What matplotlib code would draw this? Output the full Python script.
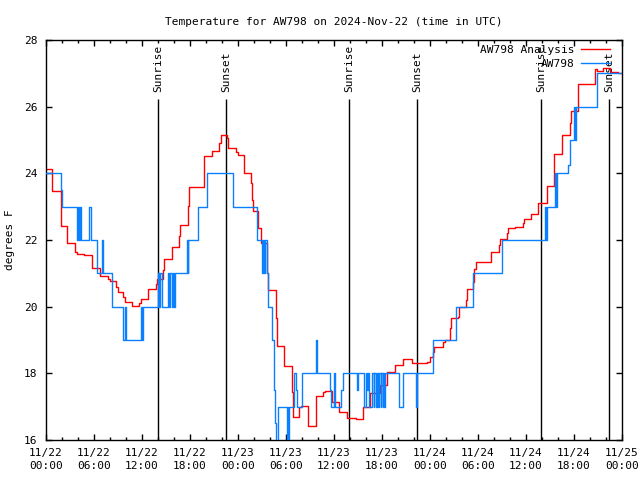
import matplotlib
matplotlib.use('Agg')
import matplotlib.pyplot as plt
from matplotlib.ticker import MultipleLocator, FixedLocator

# Hours since 2024-11-22 00:00 UTC
red_t = [0.0, 0.71, 1.84, 2.66, 3.66, 3.91, 4.75, 5.71, 6.75, 7.79, 8.0, 8.75, 8.96,
         9.66, 9.88, 10.79, 11.63, 11.84, 12.71, 12.79, 13.75, 13.84, 14.66, 14.79,
         15.71, 16.66, 16.79, 17.71, 17.84, 19.79, 20.71, 21.63, 21.84, 22.66, 22.79,
         23.71, 23.96, 24.75, 24.79, 25.63, 25.71, 25.84, 26.54, 26.84, 27.66, 27.79,
         28.71, 28.84, 29.75, 30.71, 30.84, 31.66, 31.84, 32.71, 33.71, 34.66, 34.88,
         35.71, 35.79, 36.66, 37.66, 38.71, 39.66, 40.5, 41.75, 42.59, 43.63, 44.66,
         45.71, 47.66, 48.0, 48.38, 48.54, 49.66, 49.88, 50.5, 50.63, 51.46, 51.66,
         52.46, 52.59, 53.41, 53.54, 53.71, 55.59, 56.63, 56.75, 57.59, 57.71, 58.63,
         59.59, 59.71, 60.63, 61.54, 62.59, 63.54, 64.54, 65.5, 65.63, 66.54, 68.63,
         68.84, 69.66, 70.5, 71.54, 72.0]
red_v = [24.12, 23.47, 22.42, 21.9, 21.65, 21.57, 21.54, 21.15, 20.93, 20.83, 20.77,
         20.6, 20.44, 20.3, 20.15, 20.03, 20.1, 20.22, 20.35, 20.52, 20.68, 20.82, 21.1,
         21.42, 21.8, 22.12, 22.44, 23.02, 23.58, 24.52, 24.68, 24.92, 25.16, 25.05,
         24.75, 24.65, 24.55, 24.28, 24.02, 23.72, 23.2, 22.88, 22.35, 21.9, 21.0, 20.5,
         19.67, 18.82, 18.22, 17.45, 16.68, 16.98, 17.02, 16.42, 17.33, 17.45, 17.48,
         17.25, 17.13, 16.85, 16.65, 16.62, 17.0, 17.42, 17.65, 18.05, 18.25, 18.42,
         18.3, 18.35, 18.5, 18.65, 18.8, 18.95, 19.0, 19.35, 19.65, 19.7, 19.98, 20.2,
         20.52, 20.75, 21.12, 21.33, 21.63, 21.85, 22.02, 22.2, 22.35, 22.4, 22.5,
         22.63, 22.78, 23.1, 23.62, 24.57, 25.15, 25.5, 25.86, 26.68, 27.12, 27.08,
         27.17, 27.03, 27.0, 27.0]

blue_t = [0.0, 1.88, 2.0, 3.91, 4.04, 4.16, 4.29, 4.41, 5.41, 5.59, 6.41, 6.96, 7.16,
          8.21, 9.66, 9.84, 10.0, 11.88, 11.96, 12.09, 14.04, 14.16, 14.29, 14.46,
          15.21, 15.38, 15.5, 15.71, 15.91, 16.04, 16.13, 17.59, 17.69, 17.79, 19.04,
          20.13, 23.41, 26.34, 27.04, 27.13, 27.25, 27.38, 27.59, 27.79, 28.21, 28.54,
          28.63, 28.75, 29.04, 30.09, 30.19, 30.29, 30.38, 31.04, 31.25, 31.38, 32.04,
          33.71, 33.91, 35.5, 35.63, 36.04, 36.16, 36.88, 37.16, 38.88, 39.0, 39.75,
          39.96, 40.13, 40.21, 40.38, 40.71, 40.94, 41.04, 41.25, 41.38, 41.54, 41.63,
          41.84, 41.91, 42.09, 42.16, 42.29, 42.38, 44.13, 44.66, 46.25, 46.41, 48.41,
          51.21, 53.41, 57.04, 62.38, 62.5, 62.63, 63.63, 63.75, 63.84, 65.29, 65.5,
          66.04, 66.13, 66.21, 68.84, 72.0]
blue_v = [24, 23.5, 23, 22, 23, 22, 23, 22, 23, 22, 21, 22, 21,
          20, 19, 20, 19, 20, 19, 20, 21, 20, 21, 20,
          21, 20, 21, 20, 21, 20, 21, 22, 21, 22, 23,
          24, 23, 22, 21, 22, 21, 22, 21, 20, 19, 17.5,
          16.5, 15, 17, 15, 17, 15, 17, 18, 17.5, 17, 18,
          19, 18, 17.5, 17, 18, 17, 17.5, 18, 17.5, 18, 17,
          18, 17.5, 18, 17, 18, 17, 18, 17, 18, 17, 18,
          17, 18, 17, 18, 17, 18, 17, 18, 17, 18, 19,
          20, 21, 22, 23, 22, 23, 24, 23, 24, 24.25, 25,
          26, 25, 26, 27, 27]

sun_labels = ['Sunrise', 'Sunset', 'Sunrise', 'Sunset', 'Sunrise', 'Sunset']
sun_t = [14.0, 22.5, 37.875, 46.375, 61.875, 70.375]

xtick_hours = [0, 6, 12, 18, 24, 30, 36, 42, 48, 54, 60, 66, 72]
xtick_labels = ['11/22\n00:00', '11/22\n06:00', '11/22\n12:00', '11/22\n18:00',
                '11/23\n00:00', '11/23\n06:00', '11/23\n12:00', '11/23\n18:00',
                '11/24\n00:00', '11/24\n06:00', '11/24\n12:00', '11/24\n18:00',
                '11/25\n00:00']
ytick_vals = [16, 18, 20, 22, 24, 26, 28]

plt.rcParams['font.family'] = ['DejaVu Sans Mono']
FS = 8

fig = plt.figure(figsize=(6.4, 4.8), dpi=100)
ax = fig.add_axes([46 / 640, 40 / 480, 576 / 640, 400 / 480])

for t, lab in zip(sun_t, sun_labels):
    ax.vlines(t, 16, 26.22, color='black', lw=1.0, zorder=1)
    ax.text(t, 26.43, lab, rotation=90, ha='center', va='bottom', fontsize=FS,
            zorder=1)

ax.plot(red_t, red_v, drawstyle='steps-post', color='#ff0000', lw=1.0,
        label='AW798 Analysis', zorder=2)
ax.plot(blue_t, blue_v, drawstyle='steps-post', color='#0a80ff', lw=1.0,
        label='AW798', zorder=3)

ax.set_xlim(0, 72)
ax.set_ylim(16, 28)
ax.xaxis.set_major_locator(FixedLocator(xtick_hours))
ax.set_xticklabels(xtick_labels)
for lbl in ax.get_xticklabels():
    lbl.set_linespacing(1.35)
ax.xaxis.set_minor_locator(MultipleLocator(2))
ax.set_yticks(ytick_vals)
ax.tick_params(axis='both', which='major', direction='in', length=4, width=1,
               top=True, right=True, labelsize=FS)
ax.tick_params(axis='x', which='major', pad=6)
ax.tick_params(axis='y', which='major', pad=6)
ax.tick_params(axis='x', which='minor', direction='in', length=2, width=1,
               top=True)
for sp in ax.spines.values():
    sp.set_linewidth(1.0)

ax.set_title('Temperature for AW798 on 2024-Nov-22 (time in UTC)', fontsize=FS,
             pad=11)
fig.text(10 / 640, 0.5, 'degrees F', rotation=90, ha='center', va='center',
         fontsize=FS)

ax.legend(loc='upper right', bbox_to_anchor=(0.979, 0.988), frameon=False,
          markerfirst=False, fontsize=FS, handlelength=2.6, handletextpad=0.6,
          labelspacing=0.35, borderaxespad=0.0, borderpad=0.0)

fig.savefig('out.png', dpi=100)
